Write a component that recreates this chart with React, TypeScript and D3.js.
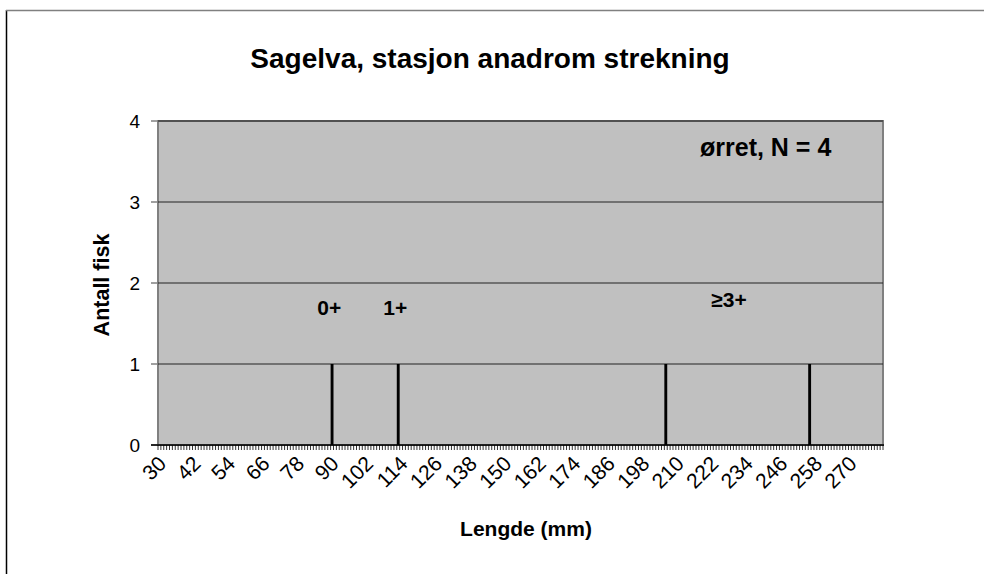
import React from "react";
import * as d3 from "d3";

const title = "Sagelva, stasjon anadrom strekning";
const xTitle = "Lengde (mm)";
const yTitle = "Antall fisk";
const legendText = "ørret, N = 4";
const categories: number[] = d3.range(30, 282);
const fishLengths: number[] = [90, 113, 206, 256];
const xTickLabels: number[] = [30, 42, 54, 66, 78, 90, 102, 114, 126, 138, 150, 162, 174, 186, 198, 210, 222, 234, 246, 258, 270];
const yTicks: number[] = [0, 1, 2, 3, 4];
const ageLabels = [
  { text: "0+", len: 89, y: 1.6 },
  { text: "1+", len: 112, y: 1.6 },
  { text: "≥3+", len: 228, y: 1.7 },
];

const counts = categories.map((c) => ({ c, n: fishLengths.filter((f) => f === c).length }));

export default function App() {
  const W = 984, H = 574;
  const L = 158, R = 883, T = 121, B = 445;
  const x = d3.scaleBand<number>().domain(categories).range([L, R]).padding(0);
  const y = d3.scaleLinear().domain([0, 4]).range([B, T]);
  const bw = x.bandwidth();
  const font = "Arial, 'Liberation Sans', sans-serif";
  const boundaries = d3.range(categories.length + 1).map((i) => L + i * bw);

  return (
    <svg width={W} height={H} style={{ position: "absolute", left: 0, top: 0, background: "#fff" }} fontFamily={font}>
      <rect x={0} y={0} width={W} height={H} fill="#fff" />
      <line x1={6.5} x2={6.5} y1={10} y2={H} stroke="#000" strokeWidth={1.5} />
      <line x1={6} x2={W} y1={10.5} y2={10.5} stroke="#808080" strokeWidth={1.5} />
      <text x={490} y={68} textAnchor="middle" fontWeight="bold" fontSize={28}>{title}</text>
      <rect x={L} y={T} width={R - L} height={B - T} fill="#c0c0c0" stroke="#808080" strokeWidth={2} />
      {yTicks.filter((v) => v > 0).map((v) => (
        <line key={v} x1={L} x2={R} y1={y(v)} y2={y(v)} stroke="#222" strokeWidth={1} />
      ))}
      {counts.filter((d) => d.n > 0).map((d) => (
        <rect key={d.c} x={x(d.c)!} y={y(d.n)} width={bw} height={B - y(d.n)} fill="#000" />
      ))}
      {yTicks.map((v) => (
        <g key={v}>
          <line x1={151} x2={L} y1={y(v)} y2={y(v)} stroke="#808080" strokeWidth={1.5} />
          <text x={140} y={y(v) + 7} textAnchor="end" fontSize={19}>{v}</text>
        </g>
      ))}
      <line x1={151} x2={R + 1} y1={B} y2={B} stroke="#000" strokeWidth={1.5} />
      {boundaries.map((bx, i) => (
        <line key={i} x1={bx} x2={bx} y1={B} y2={B + 5} stroke="#000" strokeWidth={0.8} />
      ))}
      {xTickLabels.map((v) => {
        const cx = x(v)! + bw / 2 + 8;
        const cy = 465;
        return (
          <text key={v} x={cx} y={cy} textAnchor="end" fontSize={21} transform={`rotate(-45 ${cx} ${cy})`}>{v}</text>
        );
      })}
      <text x={526} y={536} textAnchor="middle" fontWeight="bold" fontSize={21}>{xTitle}</text>
      <text transform={`translate(109 285) rotate(-90)`} textAnchor="middle" fontWeight="bold" fontSize={21.5}>{yTitle}</text>
      <text x={700} y={156} textAnchor="start" fontWeight="bold" fontSize={25}>{legendText}</text>
      {ageLabels.map((a) => (
        <text key={a.text} x={x(a.len)! + bw / 2} y={y(a.y)} textAnchor="middle" fontWeight="bold" fontSize={21}>{a.text}</text>
      ))}
    </svg>
  );
}
